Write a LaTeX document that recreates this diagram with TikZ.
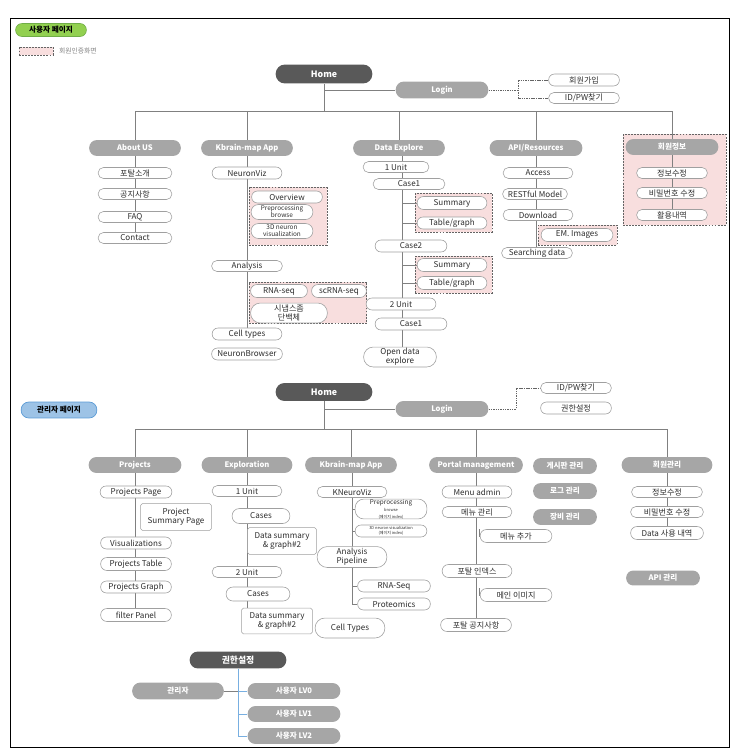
\documentclass[tikz,border=0pt]{standalone}
\usepackage{fontspec}
\setmainfont{Noto Sans CJK KR}
\usetikzlibrary{calc}
\definecolor{linec}{RGB}{128,128,128}
\definecolor{pillb}{RGB}{160,160,160}
\definecolor{txt}{RGB}{45,45,45}
\definecolor{catg}{RGB}{166,166,166}
\definecolor{homeg}{RGB}{89,89,89}
\definecolor{pinkf}{RGB}{248,222,222}
\definecolor{dashc}{RGB}{100,100,100}
\definecolor{greenf}{RGB}{146,208,80}
\definecolor{greend}{RGB}{112,173,71}
\definecolor{bluef}{RGB}{157,195,230}
\definecolor{blued}{RGB}{91,155,213}
\definecolor{bline}{RGB}{120,175,225}
\newcommand\myct{\fontsize{6.9}{7.6}\selectfont}
\newcommand\mycat{\fontsize{6.5}{7.5}\selectfont\bfseries}
\newcommand\myhome{\fontsize{7.5}{8.5}\selectfont\bfseries}
\newcommand\mysm{\fontsize{5.5}{6}\selectfont}
\newcommand\mytiny{\fontsize{3.4}{3.8}\selectfont}
\newcommand\myleg{\fontsize{5.8}{6.5}\selectfont}
\pgfdeclarelayer{back}
\pgfdeclarelayer{bg}
\pgfsetlayers{back,bg,main}
\tikzset{
  conn/.style={draw=linec, line width=0.6pt},
  dconn/.style={draw=dashc, line width=0.5pt, dash pattern=on 1.2pt off 0.8pt},
  bconn/.style={draw=bline, line width=0.7pt},
  cpill/.style 2 args={draw=pillb, line width=0.5pt, fill=white, rounded corners=#2*0.41pt,
    minimum width=#1*0.85pt, minimum height=#2*0.85pt, inner sep=0pt, font=\myct, text=txt, align=center},
  gpill/.style 2 args={fill=catg, rounded corners=#2*0.41pt,
    minimum width=#1*0.85pt, minimum height=#2*0.85pt, inner sep=0pt, font=\mycat, text=white, align=center},
  dpill/.style 2 args={fill=homeg, rounded corners=#2*0.41pt,
    minimum width=#1*0.85pt, minimum height=#2*0.85pt, inner sep=0pt, font=\myhome, text=white, align=center},
  rbox/.style 2 args={draw=pillb, line width=0.5pt, fill=white, rounded corners=1.5pt,
    minimum width=#1*0.85pt, minimum height=#2*0.85pt, inner sep=0pt, font=\myct, text=txt, align=center},
  dbox/.style 2 args={draw=dashc, line width=0.5pt, dash pattern=on 1.6pt off 1pt, fill=pinkf,
    minimum width=#1*0.85pt, minimum height=#2*0.85pt, inner sep=0pt},
}
\begin{document}
\begin{tikzpicture}[x=0.03cm,y=-0.03cm]
\useasboundingbox (0,0) rectangle (738,755);
\draw[black, line width=0.8pt] (10,18) rectangle (729,747);

% ---------------- user page ----------------
\node[fill=greenf, draw=greend, line width=0.5pt, rounded corners=5.3pt, minimum width=71*0.85pt,
  minimum height=13*0.85pt, inner sep=0pt, font=\mycat, text=black] (upage) at (51,30) {사용자 페이지};
\node[dbox={34}{8}] (leg) at (36,51) {};
\node[anchor=west, font=\myleg, text=linec, inner sep=0pt] (legt) at (59,51) {회원인증화면};

\begin{pgfonlayer}{back}
\node[dbox={78}{58}] (kbb1) at (288,216) {};
\node[dbox={118}{41}] (kbb2) at (308,302.5) {};
\node[dbox={77}{39}] (deb1) at (453.5,212.5) {};
\node[dbox={77}{37}] (deb2) at (453.5,274.5) {};
\node[dbox={79}{20}] (emb) at (577.5,235) {};
\node[dbox={103}{91}] (mib) at (674.5,179.5) {};
\end{pgfonlayer}

\node[dpill={97}{19}] (home) at (324,74) {Home};
\node[gpill={93}{17}] (login) at (442,90) {Login};
\node[cpill={71}{12}] (join) at (584,80) {회원가입};
\node[cpill={71}{11}] (idpw) at (584,98) {ID/PW찾기};

\node[gpill={92}{16}] (about) at (135,148) {About US};
\node[gpill={92}{16}] (kbapp) at (247,148) {Kbrain-map App};
\node[gpill={92}{16}] (dexp) at (399,148) {Data Explore};
\node[gpill={93}{16}] (api) at (536,148) {API/Resources};
\node[gpill={93}{16}] (minfo) at (672,147) {회원정보};

\node[cpill={74}{11}] (a1) at (135,173) {포탈소개};
\node[cpill={74}{11}] (a2) at (135,194) {공지사항};
\node[cpill={74}{11}] (a3) at (135,217) {FAQ};
\node[cpill={74}{11}] (a4) at (135,238) {Contact};

\node[cpill={70}{12}] (nviz) at (247,173) {NeuronViz};
\node[cpill={71}{12}] (ov) at (287,197) {Overview};
\node[cpill={62}{15}, font=\mysm] (pre) at (282,212) {Preprocessing\\browse};
\node[cpill={62}{15}, font=\mysm] (v3d) at (282,231) {3D neuron\\visualization};
\node[cpill={71}{11}] (anal) at (247,266) {Analysis};
\node[cpill={57}{13}] (rna) at (279,291) {RNA-seq};
\node[cpill={55}{13}] (scrna) at (339,291) {scRNA-seq};
\node[cpill={77}{20}] (syn) at (289,313) {시냅스좀\\단백체};
\node[cpill={70}{12}] (ctype) at (247,334) {Cell types};
\node[cpill={71}{12}] (nbr) at (247,354) {NeuronBrowser};

\node[cpill={66}{11}] (u1) at (396,167) {1 Unit};
\node[cpill={72}{11}] (c1) at (409,184) {Case1};
\node[cpill={70}{13}] (sum1) at (452,203) {Summary};
\node[cpill={70}{12}] (tg1) at (452,223) {Table/graph};
\node[cpill={72}{12}] (c2) at (411,246) {Case2};
\node[cpill={70}{13}] (sum2) at (452,265) {Summary};
\node[cpill={70}{13}] (tg2) at (452,283) {Table/graph};
\node[cpill={70}{12}] (u2) at (401,304) {2 Unit};
\node[cpill={72}{12}] (c1b) at (411,324) {Case1};
\node[cpill={73}{20}] (ode) at (400,357) {Open data\\explore};

\node[cpill={70}{11}] (acc) at (538,173) {Access};
\node[cpill={65}{11}] (rest) at (535,194) {RESTful Model};
\node[cpill={70}{11}] (dl) at (538,215) {Download};
\node[cpill={72}{13}] (em) at (577,235) {EM. Images};
\node[cpill={71}{11}] (sd) at (537,253) {Searching data};

\node[cpill={71}{11}] (m1) at (672,173) {정보수정};
\node[cpill={71}{11}] (m2) at (672,193) {비밀번호 수정};
\node[cpill={71}{11}] (m3) at (672,215) {활용내역};

\coordinate (ubus) at (324,111);
\coordinate (ujn) at (518,90);
\coordinate (dx) at (402,0);

\begin{pgfonlayer}{bg}
\draw[conn] (home.south) -- (ubus);
\draw[conn] (home.south |- login) -- (login.west);
\draw[conn] (about.north) |- (minfo.north |- ubus) -- (minfo.north);
\draw[conn] (kbapp.north) -- (kbapp.north |- ubus);
\draw[conn] (dexp.north) -- (dexp.north |- ubus);
\draw[conn] (api.north) -- (api.north |- ubus);
\draw[dconn] (login.east) -- (ujn) |- (join.west);
\draw[dconn] (ujn) |- (idpw.west);
\draw[conn] (about.south) -- (a4.north);
\draw[conn] (kbapp.south) -- (ctype.north);
\draw[conn] (dexp.south -| dx) -- (ode.north -| dx);
\draw[conn] (dx |- sum1) -- (sum1.west);
\draw[conn] (dx |- tg1) -- (tg1.west);
\draw[conn] (dx |- sum2) -- (sum2.west);
\draw[conn] (dx |- tg2) -- (tg2.west);
\draw[conn] (api.south) -- (api.south |- sd.north);
\draw[conn] (minfo.south) -- (m3.north);
\end{pgfonlayer}

% ---------------- admin page ----------------
\node[fill=bluef, draw=blued, line width=0.6pt, rounded corners=6.5pt, minimum width=76*0.85pt,
  minimum height=16*0.85pt, inner sep=0pt, font=\mycat, text=black] (apage) at (59,410) {관리자 페이지};
\node[dpill={97}{18}] (home2) at (324,392) {Home};
\node[gpill={93}{16}] (login2) at (442,409) {Login};
\node[cpill={71}{11}] (idpw2) at (576,388) {ID/PW찾기};
\node[cpill={71}{12}] (perm) at (576,408) {권한설정};

\node[gpill={93}{16}] (proj) at (135,465) {Projects};
\node[gpill={91}{16}] (expl) at (247,465) {Exploration};
\node[gpill={92}{16}] (kb3) at (351,465) {Kbrain-map App};
\node[gpill={94}{16}] (pm) at (476,465) {Portal management};
\node[gpill={64}{16}] (board) at (565,466) {게시판 관리};
\node[gpill={91}{16}] (mm) at (667,465) {회원관리};
\node[gpill={64}{16}] (logm) at (565,491) {로그 관리};
\node[gpill={64}{16}] (equip) at (565,517) {장비 관리};
\node[gpill={74}{15}] (apim) at (663,578) {API 관리};

\node[cpill={72}{12}] (pp) at (136,492) {Projects Page};
\node[rbox={71}{27}] (psp) at (176,517) {Project\\Summary Page};
\node[cpill={71}{12}] (vis) at (136,543) {Visualizations};
\node[cpill={71}{13}] (pt) at (136,564) {Projects Table};
\node[cpill={71}{12}] (pg) at (136,587) {Projects Graph};
\node[cpill={71}{13}] (fp) at (136,615) {filter Panel};

\node[cpill={70}{11}] (e1) at (247,491) {1 Unit};
\node[cpill={58}{15}] (ec1) at (261,516) {Cases};
\node[rbox={69}{27}] (eds1) at (282,541) {Data summary\\\& graph\#2};
\node[cpill={70}{11}] (e2) at (247,572) {2 Unit};
\node[cpill={64}{14}] (ec2) at (258,594) {Cases};
\node[rbox={71}{26}] (eds2) at (277,621) {Data summary\\\& graph\#2};

\node[cpill={70}{11}] (knv) at (352,492) {KNeuroViz};
\node[cpill={72}{18}, font=\mysm] (kpre) at (391,509) {Preprocessing\\{\mytiny browse}\\{\mytiny (페이지 index)}};
\node[cpill={72}{12}, font=\mytiny] (k3d) at (391,531) {3D neuron visualization\\(페이지 index)};
\node[cpill={70}{21}] (kap) at (352,557) {Analysis\\Pipeline};
\node[cpill={73}{12}] (krna) at (394,586) {RNA-Seq};
\node[cpill={73}{12}] (kprot) at (394,604) {Proteomics};
\node[cpill={70}{20}] (kct) at (350,628) {Cell Types};

\node[cpill={70}{12}] (pm1) at (477,492) {Menu admin};
\node[cpill={70}{11}] (pm2) at (477,512) {메뉴 관리};
\node[cpill={72}{13}] (pm3) at (516,536) {메뉴 추가};
\node[cpill={70}{13}] (pm4) at (477,571) {포탈 인덱스};
\node[cpill={72}{13}] (pm5) at (516,595) {메인 이미지};
\node[cpill={71}{13}] (pm6) at (476,625) {포탈 공지사항};

\node[cpill={71}{11}] (mm1) at (667,492) {정보수정};
\node[cpill={73}{11}] (mm2) at (667,512) {비밀번호 수정};
\node[cpill={73}{13}] (mm3) at (667,533) {Data 사용 내역};

\node[dpill={97}{17}] (permh) at (238,660) {권한설정};
\node[gpill={92}{17}] (adm) at (178,691) {관리자};
\node[gpill={93}{16}] (lv0) at (294,691) {사용자 LV0};
\node[gpill={93}{16}] (lv1) at (294,714) {사용자 LV1};
\node[gpill={93}{16}] (lv2) at (294,736) {사용자 LV2};

\coordinate (abus) at (324,429);
\coordinate (ajn) at (516,409);
\coordinate (kx) at (352,0);
\coordinate (p3a) at (479,529);
\coordinate (p5a) at (479,588);

\begin{pgfonlayer}{bg}
\draw[conn] (home2.south) -- (abus);
\draw[conn] (home2.south |- login2) -- (login2.west);
\draw[conn] (proj.north) |- (mm.north |- abus) -- (mm.north);
\draw[conn] (expl.north) -- (expl.north |- abus);
\draw[conn] (kb3.north) -- (kb3.north |- abus);
\draw[conn] (pm.north) -- (pm.north |- abus);
\draw[dconn] (login2.east) -- (ajn) |- (idpw2.west);
\draw[conn] (proj.south) -- (proj.south |- fp.north);
\draw[conn] (expl.south) -- (expl.south |- eds2.north);
\draw[conn] (kb3.south -| kx) |- (kprot.west);
\draw[conn] (kx |- kpre) -- (kpre.west);
\draw[conn] (kx |- k3d) -- (k3d.west);
\draw[conn] (kx |- krna) -- (krna.west);
\draw[conn] (pm.south) -- (pm.south |- pm6.north);
\draw[conn] (p3a) |- (pm3.west);
\draw[conn] (p5a) |- (pm5.west);
\draw[conn] (mm.south) -- (mm3.north);
\draw[bconn] (permh.south) |- (lv2.west);
\draw[bconn] (permh.south |- lv1) -- (lv1.west);
\draw[bconn] (permh.south |- lv0) -- (lv0.west);
\draw[conn] (adm.east) -- (permh.south |- adm);
\end{pgfonlayer}
\end{tikzpicture}
\end{document}
